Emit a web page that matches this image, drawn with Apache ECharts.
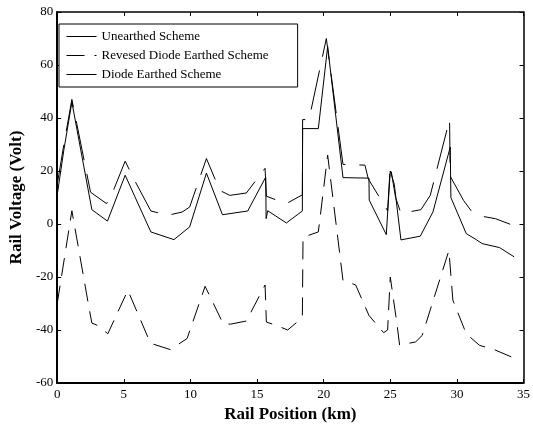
<!DOCTYPE html>
<html>
<head>
<meta charset="utf-8">
<script src="https://cdn.jsdelivr.net/npm/echarts@6/dist/echarts.min.js"></script>
<style>
  html, body { margin: 0; padding: 0; background: #fff; }
  #chart { width: 533px; height: 432px; }
</style>
</head>
<body>
<div id="chart"></div>
<script>
const seriesNames = ['Unearthed Scheme', 'Revesed Diode Earthed Scheme', 'Diode Earthed Scheme']

const unearthedKm = [0, 0.5, 1.1, 2.5, 3.7, 4.07, 5.1, 5.75, 7.03, 8.3, 9.37, 9.94, 11.2, 12.2, 12.95, 14.2, 15.6, 15.7, 17.0, 17.2, 18.4, 18.42, 18.9, 20.2, 21.45, 23.1, 23.35, 24.8, 25.0, 25.4, 25.8, 27.3, 28.0, 29.45, 29.5, 30.5, 31.1, 31.9, 32.9, 34.0]
const unearthedVolt = [15, 30, 47, 12, 7.7, 10.8, 23.7, 17, 4.9, 3.3, 4.5, 6.4, 24.7, 12.7, 10.8, 11.7, 21, 10.5, 8, 7.7, 11, 39.4, 39.4, 70, 22.5, 22.2, 17, 5, 22, 10, 4, 5.4, 10.8, 39.4, 18, 8.9, 4.8, 2.9, 2, -0.1]

const reversedKm = [0, 1.1, 2.4, 2.6, 3.0, 3.8, 5.3, 7.0, 8.5, 9.75, 11.1, 12.45, 13.0, 14.2, 15.6, 15.7, 16.4, 17.3, 18.4, 18.45, 19.6, 20.3, 21.45, 22.4, 23.4, 24.5, 24.8, 25.0, 25.5, 25.7, 26.9, 27.4, 29.4, 29.7, 30.7, 31.7, 32.8, 34.2]
const reversedVolt = [-30, 5, -32, -37.4, -38.2, -41.4, -25, -45, -47.4, -43.2, -23.5, -37.6, -37.8, -36.6, -23, -37, -38.2, -40, -35.3, -5, -3, 26, -21.3, -23, -34.5, -41, -40, -20, -37.6, -45.7, -44.5, -42, -10, -28.8, -41.4, -45.8, -47.4, -50.4]

const diodeKm = [0, 0.5, 1.1, 2.6, 3.77, 5.1, 7.03, 8.76, 9.94, 11.2, 12.4, 14.3, 15.65, 15.68, 15.8, 17.2, 18.4, 18.42, 19.6, 20.3, 21.45, 23.4, 23.42, 24.7, 25.0, 25.3, 25.8, 27.25, 28.2, 29.5, 29.55, 30.7, 31.45, 31.9, 33.2, 34.3]
const diodeVolt = [11, 28, 46, 5.4, 1.1, 18.4, -3, -5.9, -1.1, 19.2, 3.5, 4.9, 17.7, 2, 5, 0.4, 4.9, 36, 36, 67, 17.5, 17.3, 9, -4, 20, 15, -6, -4.6, 4.5, 29, 10, -3.6, -5.9, -7.4, -8.9, -12.4]

const xTicks = [0, 5, 10, 15, 20, 25, 30, 35]
const yTicks = [-60, -40, -20, 0, 20, 40, 60, 80]

const zip = (xs, ys) => xs.map((x, i) => [x, ys[i]])

const chart = echarts.init(document.getElementById('chart'))
const font = 'Liberation Serif'

const baseX = {
    type: 'value',
    min: xTicks[0],
    max: xTicks[xTicks.length - 1],
    interval: 5,
    splitLine: { show: false },
    axisTick: { inside: true, length: 4, lineStyle: { color: '#000' } }
}
const baseY = {
    type: 'value',
    min: yTicks[0],
    max: yTicks[yTicks.length - 1],
    interval: 20,
    splitLine: { show: false },
    axisTick: { inside: true, length: 4, lineStyle: { color: '#000' } }
}

const option = {
    animation: false,
    backgroundColor: '#fff',
    grid: { left: 55, right: 5, top: 12, bottom: 49 },
    legend: {
        orient: 'vertical',
        left: 59,
        top: 24,
        padding: [6, 29, 6, 7],
        borderColor: '#000',
        borderWidth: 1,
        backgroundColor: '#fff',
        itemWidth: 30,
        itemHeight: 10,
        itemGap: 6,
        itemStyle: { opacity: 0 },
        lineStyle: { width: 1 },
        textStyle: { fontFamily: font, fontSize: 13, color: '#000' },
        data: seriesNames,
        selectedMode: false
    },
    xAxis: [
        {
            ...baseX,
            position: 'bottom',
            name: 'Rail Position (km)',
            nameLocation: 'middle',
            nameGap: 23,
            nameTextStyle: { fontFamily: font, fontSize: 17, fontWeight: 'bold', color: '#000' },
            axisLine: { onZero: false, lineStyle: { color: '#000', width: 2 } },
            axisLabel: { fontFamily: font, fontSize: 13, color: '#000', margin: 5 }
        },
        {
            ...baseX,
            position: 'top',
            axisLine: { onZero: false, lineStyle: { color: '#000', width: 1.5 } },
            axisLabel: { show: false }
        }
    ],
    yAxis: [
        {
            ...baseY,
            position: 'left',
            name: 'Rail Voltage (Volt)',
            nameLocation: 'middle',
            nameGap: 32,
            nameTextStyle: { fontFamily: font, fontSize: 17, fontWeight: 'bold', color: '#000' },
            axisLine: { onZero: false, lineStyle: { color: '#000', width: 2 } },
            axisLabel: { fontFamily: font, fontSize: 13, color: '#000', margin: 4 }
        },
        {
            ...baseY,
            position: 'right',
            axisLine: { onZero: false, lineStyle: { color: '#000', width: 1.5 } },
            axisLabel: { show: false }
        }
    ],
    series: [
        {
            name: seriesNames[0],
            type: 'line',
            data: zip(unearthedKm, unearthedVolt),
            symbol: 'none',
            lineStyle: { color: '#000', width: 1, type: [40, 14] },
            itemStyle: { color: '#000' }
        },
        {
            name: seriesNames[1],
            type: 'line',
            data: zip(reversedKm, reversedVolt),
            symbol: 'none',
            lineStyle: { color: '#000', width: 1, type: [18, 10] },
            itemStyle: { color: '#000' }
        },
        {
            name: seriesNames[2],
            type: 'line',
            data: zip(diodeKm, diodeVolt),
            symbol: 'none',
            lineStyle: { color: '#000', width: 1 },
            itemStyle: { color: '#000' }
        }
    ]
}

chart.setOption(option)
</script>
</body>
</html>
